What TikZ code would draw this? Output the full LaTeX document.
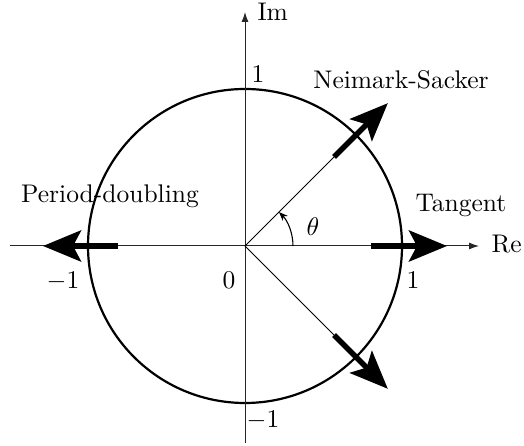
\documentclass[tikz,border=0pt]{standalone}
\usetikzlibrary{arrows.meta}
\begin{document}
\begin{tikzpicture}[x=1pt,y=1pt,
  lbl/.style={font=\fontsize{10pt}{12pt}\selectfont, scale=2.55, inner sep=0pt},
  axis/.style={line width=1pt, draw=black!85, -{Latex[length=10pt,width=7pt]}},
  ray/.style={line width=1pt},
  unitcirc/.style={line width=2.2pt},
  bigarrow/.style={line width=5.5pt, -{Stealth[length=38pt,width=31pt,inset=8pt]}},
  anglearc/.style={line width=1.1pt, -{Stealth[length=9pt,width=7pt]}}]
\useasboundingbox (0,0) rectangle (524,446);
\coordinate (O) at (245,200);
\coordinate (xl) at (10,200);
\coordinate (xr) at (479,200);
\coordinate (yb) at (245,3);
\coordinate (yt) at (245,434);
% circle
\draw[unitcirc] (O) circle[radius=157];
% axes
\draw[axis] (xl) -- (xr);
\draw[axis] (yb) -- (yt);
% rays
\coordinate (ne0) at ([shift={(45:126)}]O);
\coordinate (ne1) at ([shift={(45:202)}]O);
\coordinate (se0) at ([shift={(-45:126)}]O);
\coordinate (se1) at ([shift={(-45:202)}]O);
\coordinate (e0) at ([shift={(0:126)}]O);
\coordinate (e1) at ([shift={(0:202)}]O);
\coordinate (w0) at ([shift={(180:127)}]O);
\coordinate (w1) at ([shift={(180:202)}]O);
\draw[ray] (O) -- (ne0);
\draw[ray] (O) -- (se0);
% angle
\coordinate (a0) at ([shift={(0:48)}]O);
\draw[anglearc] (a0) arc[start angle=0, end angle=45, radius=48];
% big arrows
\draw[bigarrow] (ne0) -- (ne1);
\draw[bigarrow] (se0) -- (se1);
\draw[bigarrow] (e0) -- (e1);
\draw[bigarrow] (w0) -- (w1);
% labels
\node[lbl, anchor=base west] (re) at (491,193) {Re};
\node[lbl, anchor=base west] (im) at (257,425) {Im};
\node[lbl, anchor=base] (one) at (258,363) {1};
\node[lbl, anchor=base] (mone) at (63,157) {$-1$};
\node[lbl, anchor=base] (zero) at (229,157) {0};
\node[lbl, anchor=base] (oner) at (413,157) {1};
\node[lbl, anchor=base] (moneb) at (263,18) {$-1$};
\node[lbl, anchor=base] (ns) at (401,357) {Neimark-Sacker};
\node[lbl, anchor=base] (pd) at (110,243) {Period-doubling};
\node[lbl, anchor=base] (tg) at (461,234) {Tangent};
\node[lbl] (th) at (313,219) {$\theta$};
\end{tikzpicture}
\end{document}
